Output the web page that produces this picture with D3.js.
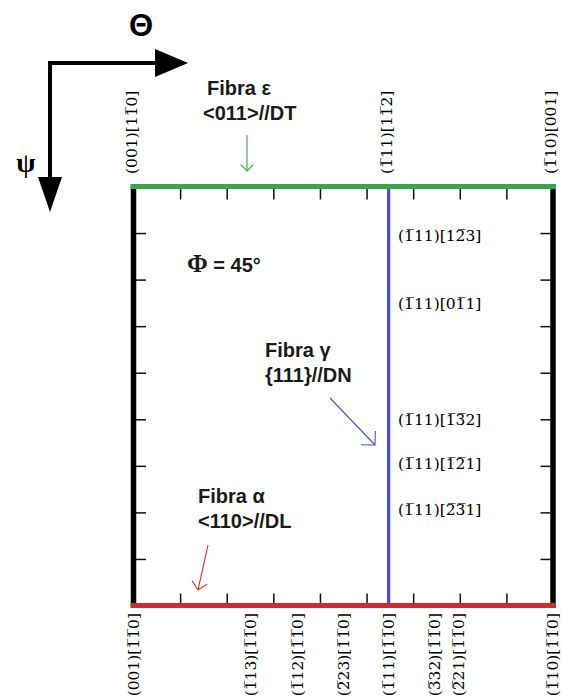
<!DOCTYPE html>
<html>
<head>
<meta charset="utf-8">
<script src="https://cdn.jsdelivr.net/npm/d3@7"></script>
<style>
  html, body { margin: 0; padding: 0; background: #fff; }
  svg { display: block; }
</style>
</head>
<body>
<svg id="chart" width="562" height="697"></svg>
<script>
// Euler-space section at constant Phi: theta across, psi downward (degrees)
const OB = "\u0305"; // combining overline for negative Miller indices

const thetaTicks = [10, 20, 30, 40, 50, 60, 70, 80];
const psiTicks = [10, 20, 30, 40, 50, 60, 70, 80];

// fibre positions
const epsilonPsi = 0;     // <011>//DT
const alphaPsi = 90;      // <110>//DL
const gammaTheta = 54.74; // {111}//DN

// orientations along the top edge (psi = 0)
const topTheta = [0, 54.74, 90];
const topText = [
  "(001)[11" + OB + "0]",
  "(1" + OB + "11)[11" + OB + "2]",
  "(1" + OB + "10)[001]"
];

// orientations along the bottom edge (alpha fibre, psi = 90)
const bottomTheta = [0, 25.2, 35.3, 45, 54.74, 64.5, 69.8, 90];
const bottomText = [
  "(001)[1" + OB + "1" + OB + "0]",
  "(1" + OB + "13)[1" + OB + "1" + OB + "0]",
  "(1" + OB + "12)[1" + OB + "1" + OB + "0]",
  "(2" + OB + "23)[1" + OB + "1" + OB + "0]",
  "(1" + OB + "11)[1" + OB + "1" + OB + "0]",
  "(3" + OB + "32)[1" + OB + "1" + OB + "0]",
  "(2" + OB + "21)[1" + OB + "1" + OB + "0]",
  "(1" + OB + "10)[1" + OB + "1" + OB + "0]"
];

// orientations along the gamma fibre
const gammaPsi = [10.5, 25.2, 50, 59.6, 69.3];
const gammaText = [
  "(1" + OB + "11)[12" + OB + "3]",
  "(1" + OB + "11)[01" + OB + "1]",
  "(1" + OB + "11)[1" + OB + "3" + OB + "2]",
  "(1" + OB + "11)[1" + OB + "2" + OB + "1]",
  "(1" + OB + "11)[2" + OB + "3" + OB + "1]"
];

const svg = d3.select("#chart");
const x = d3.scaleLinear().domain([0, 90]).range([133.5, 553]);
const y = d3.scaleLinear().domain([0, 90]).range([186.5, 605.5]);

const GREEN = "#37a548", RED = "#d6282b", BLUE = "#4a4ed2";
const sans = "'Liberation Sans', Arial, sans-serif";
const serif = "'DejaVu Serif', serif";

// ---- reference axes arrows (theta right, psi down)
const axes = svg.append("g");
axes.append("line").attr("x1", 49).attr("y1", 63).attr("x2", 158).attr("y2", 63)
  .attr("stroke", "#000").attr("stroke-width", 4);
axes.append("path").attr("d", "M155,49 L188,63 L155,77 Z").attr("fill", "#000");
axes.append("line").attr("x1", 50).attr("y1", 61).attr("x2", 50).attr("y2", 180)
  .attr("stroke", "#000").attr("stroke-width", 4);
axes.append("path").attr("d", "M38,177 L50,212 L62,177 Z").attr("fill", "#000");
axes.append("text").attr("x", 141).attr("y", 36).attr("text-anchor", "middle")
  .attr("font-family", sans).attr("font-weight", "bold").attr("font-size", 31)
  .text("\u0398");
axes.append("text").attr("x", 26).attr("y", 172).attr("text-anchor", "middle")
  .attr("font-family", "'Liberation Serif', serif").attr("font-weight", "bold").attr("font-size", 28)
  .text("\u03C8");

// ---- frame sides
const frame = svg.append("g");
frame.selectAll("line.side").data([0, 90]).join("line").attr("class", "side")
  .attr("x1", d => x(d)).attr("x2", d => x(d))
  .attr("y1", y(0)).attr("y2", y(90))
  .attr("stroke", "#000").attr("stroke-width", 5.5);

// ---- ticks (inward)
const tickStyle = g => {
  g.select(".domain").remove();
  g.selectAll(".tick line").attr("stroke", "#111").attr("stroke-width", 1.5);
};
svg.append("g").attr("transform", `translate(0,${y(0) + 2})`)
  .call(d3.axisBottom(x).tickValues(thetaTicks).tickSize(11).tickFormat(""))
  .call(tickStyle);
svg.append("g").attr("transform", `translate(0,${y(90) - 2})`)
  .call(d3.axisTop(x).tickValues(thetaTicks).tickSize(10).tickFormat(""))
  .call(tickStyle);
svg.append("g").attr("transform", `translate(${x(0) + 2.5},0)`)
  .call(d3.axisRight(y).tickValues(psiTicks).tickSize(10).tickFormat(""))
  .call(tickStyle);
svg.append("g").attr("transform", `translate(${x(90) - 2.5},0)`)
  .call(d3.axisLeft(y).tickValues(psiTicks).tickSize(10).tickFormat(""))
  .call(tickStyle);

// ---- fibres
svg.append("line").attr("x1", x(gammaTheta)).attr("x2", x(gammaTheta))
  .attr("y1", y(0)).attr("y2", y(90))
  .attr("stroke", BLUE).attr("stroke-width", 3.3);
svg.append("line").attr("x1", x(0) - 3).attr("x2", x(90) + 3)
  .attr("y1", y(epsilonPsi)).attr("y2", y(epsilonPsi))
  .attr("stroke", GREEN).attr("stroke-width", 5);
svg.append("line").attr("x1", x(0) - 3).attr("x2", x(90) + 3)
  .attr("y1", y(alphaPsi)).attr("y2", y(alphaPsi))
  .attr("stroke", RED).attr("stroke-width", 5);

// ---- orientation labels
const labelFont = g => g.attr("font-family", serif).attr("font-size", 15.5).attr("fill", "#000");

svg.append("g").call(labelFont).selectAll("text").data(topTheta).join("text")
  .attr("transform", d => `translate(${x(d) - 2},174) rotate(-90)`)
  .attr("dy", "0.35em").attr("text-anchor", "start")
  .text((d, i) => topText[i]);

svg.append("g").call(labelFont).selectAll("text").data(bottomTheta).join("text")
  .attr("transform", d => `translate(${x(d)},613) rotate(-90)`)
  .attr("dy", "0.35em").attr("text-anchor", "end")
  .text((d, i) => bottomText[i]);

svg.append("g").call(labelFont).selectAll("text").data(gammaPsi).join("text")
  .attr("x", 398).attr("y", d => y(d))
  .attr("dy", "0.35em").attr("text-anchor", "start")
  .text((d, i) => gammaText[i]);

// ---- annotations
function arrow(x1, y1, x2, y2, color, head) {
  const g = svg.append("g").attr("stroke", color).attr("fill", "none").attr("stroke-width", 1.1);
  g.append("line").attr("x1", x1).attr("y1", y1).attr("x2", x2).attr("y2", y2);
  const a = Math.atan2(y2 - y1, x2 - x1);
  const spread = Math.PI / 4;
  const p = s => [x2 - head * Math.cos(a + s), y2 - head * Math.sin(a + s)];
  g.append("polyline").attr("points", [p(spread), [x2, y2], p(-spread)].map(q => q.join(",")).join(" "));
}

// two-line caption; indent2 shifts the second line horizontally
const note = (tx, ty, lines, indent2) => {
  const t = svg.append("text").attr("font-family", sans).attr("font-weight", "bold")
    .attr("font-size", 20).attr("fill", "#1a1a1a");
  lines.forEach((s, i) => t.append("tspan").attr("x", tx + (i ? indent2 : 0)).attr("y", ty + i * 25).text(s));
};

note(207, 95, ["Fibra  \u03B5", "<011>//DT"], -4);
arrow(247, 135, 247, 171, GREEN, 9);

note(265, 357, ["Fibra \u03B3", "{111}//DN"], 0);
arrow(330, 398, 375, 445, BLUE, 14);

note(198, 503, ["Fibra \u03B1", "<110>//DL"], 0);
arrow(208, 545, 198, 590, RED, 11);

const phi = svg.append("text").attr("x", 187).attr("y", 272).attr("fill", "#1a1a1a");
phi.append("tspan").attr("font-family", "'Liberation Serif', serif").attr("font-weight", "bold")
  .attr("font-size", 25).text("\u03A6");
phi.append("tspan").attr("font-family", sans).attr("font-weight", "bold")
  .attr("font-size", 20).text(" = 45\u00B0");
</script>
</body>
</html>
